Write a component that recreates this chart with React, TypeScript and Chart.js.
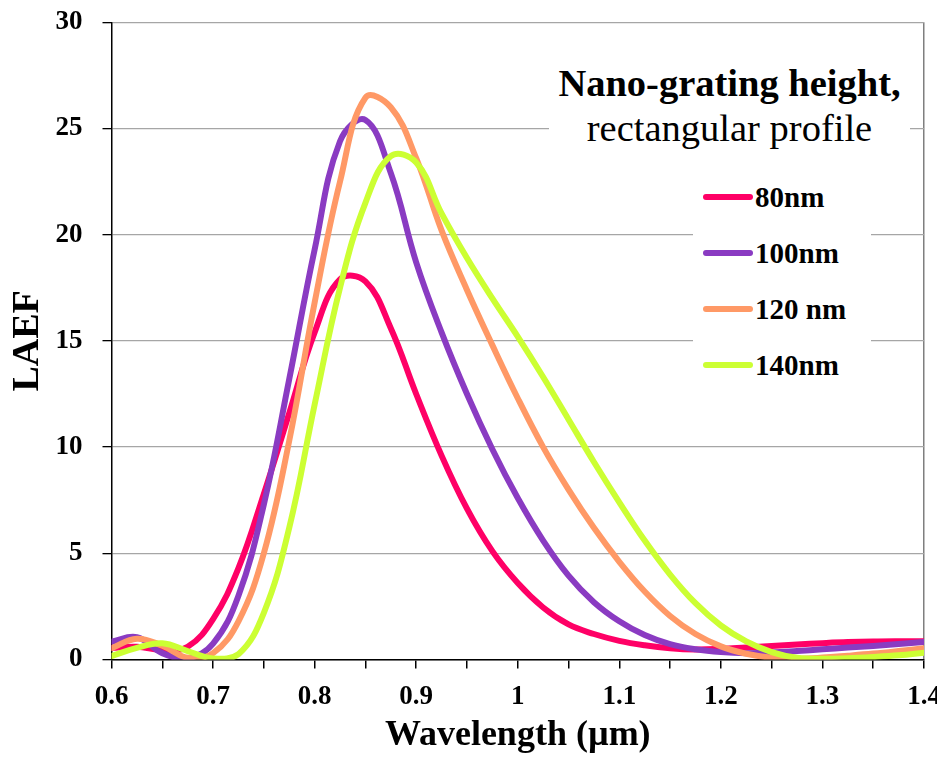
import React, { useEffect, useRef } from "react";
import { Chart, registerables } from "chart.js";

Chart.register(...registerables);

// ---- Data ----
const seriesLabels = ["80nm", "100nm", "120 nm", "140nm"];
const seriesColors = ["#FF0066", "#8A3BC2", "#FF9966", "#CCFF33"];

const wavelengths = [
  0.6, 0.625, 0.65, 0.675, 0.7, 0.725, 0.75, 0.775, 0.8, 0.825, 0.85, 0.875, 0.9, 0.925, 0.95, 0.975,
  1.0, 1.025, 1.05, 1.075, 1.1, 1.125, 1.15, 1.175, 1.2, 1.225, 1.25, 1.275, 1.3, 1.325, 1.35, 1.375, 1.4,
];

const laef80 = [
  0.55, 0.6, 0.45, 0.6, 1.9, 4.3, 7.8, 11.6, 15.4, 17.9, 17.8, 15.6, 12.5, 9.6, 7.1, 5.1,
  3.6, 2.45, 1.65, 1.2, 0.88, 0.67, 0.53, 0.47, 0.5, 0.57, 0.64, 0.71, 0.77, 0.82, 0.85, 0.86, 0.86,
];
const laef100 = [
  0.84, 1.05, 0.3, 0.05, 0.75, 3.0, 7.3, 13.2, 19.3, 24.4, 25.4, 22.9, 18.7, 15.4, 12.5, 9.9,
  7.6, 5.6, 3.95, 2.7, 1.8, 1.15, 0.72, 0.48, 0.35, 0.3, 0.33, 0.4, 0.48, 0.56, 0.64, 0.73, 0.82,
];
const laef120 = [
  0.53, 0.98, 0.65, 0.08, 0.3, 1.8, 5.0, 10.3, 16.8, 22.5, 26.45, 26.0, 23.6, 20.2, 17.4, 14.8,
  12.3, 10.0, 8.0, 6.2, 4.6, 3.2, 2.05, 1.2, 0.62, 0.27, 0.08, 0.04, 0.09, 0.18, 0.28, 0.4, 0.53,
];
const laef140 = [
  0.16, 0.55, 0.76, 0.4, 0.05, 0.25, 2.2, 6.2, 12.0, 17.5, 21.5, 23.7, 23.4, 21.0, 18.9, 17.0,
  15.2, 13.3, 11.3, 9.3, 7.4, 5.6, 4.0, 2.65, 1.6, 0.85, 0.35, 0.08, 0.03, 0.06, 0.12, 0.2, 0.32,
];

const seriesValues = [laef80, laef100, laef120, laef140];

const xMin = 0.6;
const xMax = 1.4;
const xStep = 0.05;
const yMin = 0;
const yMax = 30;
const yStep = 5;

const xTitle = "Wavelength (µm)";
const yTitle = "LAEF";
const boxTitleBold = "Nano-grating height,";
const boxTitleNormal = "rectangular profile";

const FONT = "'Liberation Serif', 'Times New Roman', Times, serif";

export default function App() {
  const canvasRef = useRef<HTMLCanvasElement | null>(null);

  useEffect(() => {
    const canvas = canvasRef.current;
    if (!canvas) return;
    const datasets = seriesLabels.map((label, i) => ({
      label,
      data: wavelengths.map((x, j) => ({ x, y: seriesValues[i][j] })),
      borderColor: seriesColors[i],
      backgroundColor: seriesColors[i],
      borderWidth: 6,
      pointRadius: 0,
      fill: false,
      tension: 0.4,
      borderCapStyle: "round" as const,
      borderJoinStyle: "round" as const,
      order: seriesLabels.length - i,
    }));

    const chart = new Chart(canvas, {
      type: "line",
      data: { datasets },
      options: {
        animation: false,
        responsive: false,
        maintainAspectRatio: false,
        layout: { padding: { top: 14.3, right: 21, left: 0, bottom: 0 } },
        plugins: {
          legend: { display: false },
          tooltip: { enabled: false },
          title: { display: false },
        },
        scales: {
          x: {
            type: "linear",
            min: xMin,
            max: xMax,
            afterFit: (s: any) => {
              s.height = 93.5;
              s.paddingLeft = 0;
              s.paddingRight = 0;
            },
            ticks: {
              stepSize: xStep,
              autoSkip: false,
              maxRotation: 0,
              minRotation: 0,
              color: "#000",
              padding: 12,
              font: { family: FONT, size: 27, weight: "bold" },
              callback: (v: any) => {
                const r = Math.round(Number(v) * 100);
                if (r % 10 !== 0) return "";
                return String(r / 100);
              },
            },
            grid: {
              color: (ctx: any) =>
                ctx.tick && Math.abs(ctx.tick.value - xMax) < 1e-6 ? "#7f7f7f" : "rgba(0,0,0,0)",
              tickColor: "#000",
              tickLength: 9,
              lineWidth: 1.5,
            },
            border: { color: "#000", width: 1.5 },
            title: {
              display: true,
              text: xTitle,
              color: "#000",
              font: { family: FONT, size: 36, weight: "bold", lineHeight: 1 },
              padding: { top: 0, bottom: -1 },
            },
          },
          y: {
            type: "linear",
            min: yMin,
            max: yMax,
            afterFit: (s: any) => {
              s.width = 103.5;
              s.paddingTop = 0;
              s.paddingBottom = 0;
            },
            ticks: {
              stepSize: yStep,
              color: "#000",
              padding: 20,
              font: { family: FONT, size: 27, weight: "bold" },
            },
            grid: {
              color: "#a6a6a6",
              tickColor: "#000",
              tickLength: 9,
              lineWidth: 1.3,
            },
            border: { color: "#000", width: 1.5 },
            title: {
              display: true,
              text: yTitle,
              color: "#000",
              font: { family: FONT, size: 38, weight: "bold", lineHeight: 1 },
              padding: { top: 1, bottom: 0 },
            },
          },
        },
      } as any,
    });
    return () => chart.destroy();
  }, []);

  const legendTop = 0.7;
  const legendGap = 56.1;

  return (
    <div style={{ position: "relative", width: 937, height: 745 }}>
      <canvas ref={canvasRef} width={937} height={745} style={{ display: "block" }} />
      <div
        style={{
          position: "absolute",
          left: 541,
          top: 53,
          width: 361,
          background: "#fff",
          textAlign: "center",
          fontFamily: FONT,
          fontSize: 38.5,
          lineHeight: "45px",
          color: "#000",
          whiteSpace: "nowrap",
        }}
      >
        <div style={{ fontWeight: "bold" }}>{boxTitleBold}</div>
        <div>{boxTitleNormal}</div>
      </div>
      <div
        style={{
          position: "absolute",
          left: 685,
          top: 160,
          width: 178,
          height: 225,
          background: "#fff",
        }}
      >
        {seriesLabels.map((label, i) => (
          <div
            key={label}
            style={{
              position: "absolute",
              left: 10,
              top: legendTop + i * legendGap,
              height: 56,
              display: "flex",
              alignItems: "center",
              whiteSpace: "nowrap",
            }}
          >
            <span
              style={{
                display: "inline-block",
                width: 50,
                height: 6,
                borderRadius: 3,
                background: seriesColors[i],
              }}
            />
            <span
              style={{
                marginLeft: 2,
                fontFamily: FONT,
                fontWeight: "bold",
                fontSize: 29,
                lineHeight: "34px",
                color: "#000",
              }}
            >
              {label}
            </span>
          </div>
        ))}
      </div>
    </div>
  );
}
